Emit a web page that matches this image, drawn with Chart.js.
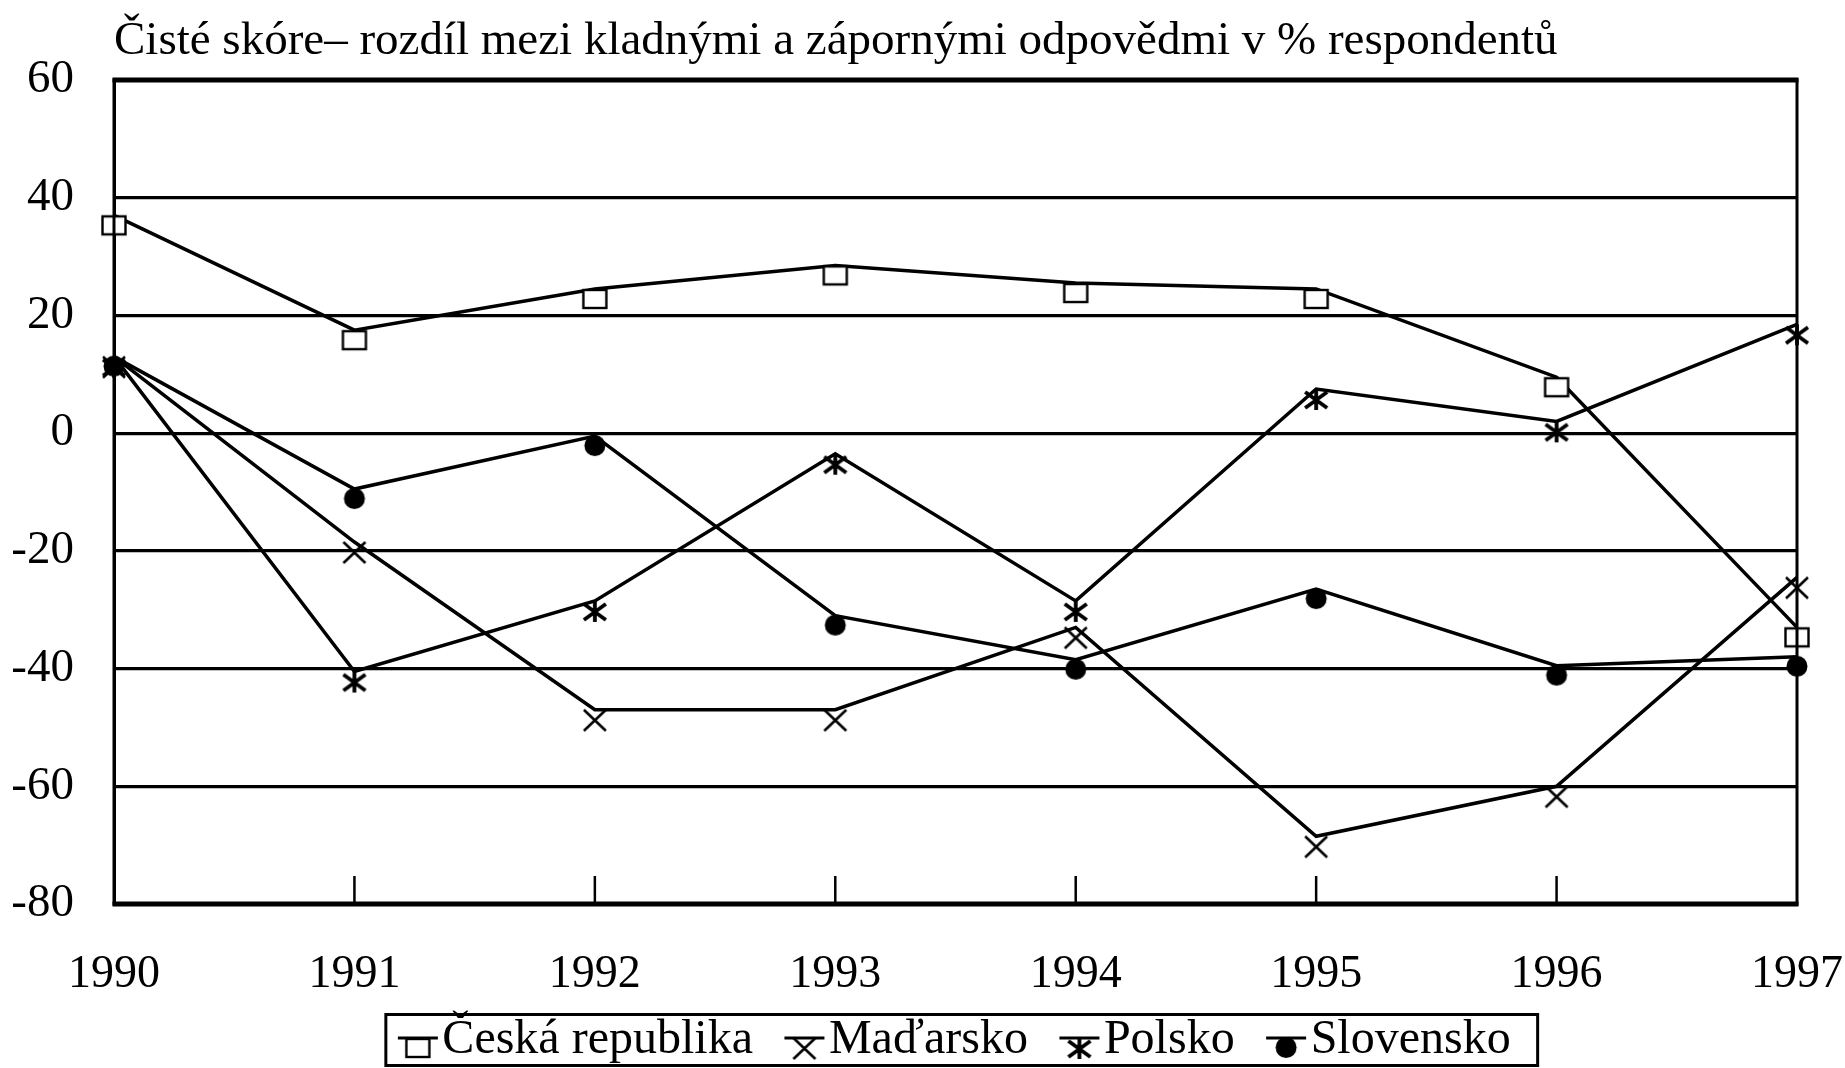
<!DOCTYPE html>
<html>
<head>
<meta charset="utf-8">
<script src="https://cdn.jsdelivr.net/npm/chart.js@4"></script>
<style>
  body { margin: 0; background: #fff; }
  #wrap { width: 1845px; height: 1068px; position: relative; }
</style>
</head>
<body>
<div id="wrap"><canvas id="lineChart"></canvas></div>
<script>
const years = ['1990', '1991', '1992', '1993', '1994', '1995', '1996', '1997'];
// values at the line vertices (the printed markers hang just below them)
const ceskaRepublika = [37, 17.5, 24.5, 28.5, 25.5, 24.5, 9.5, -33];
const madarsko = [13, -18.5, -47, -47, -33, -68.5, -60, -24.5];
const polsko = [13, -40.5, -28.5, -3.5, -28.5, 7.5, 2, 18.5];
const slovensko = [13, -9.5, -0.5, -31, -38.5, -26.5, -39.5, -38];
const yTicks = [60, 40, 20, 0, -20, -40, -60, -80];
const titleText = 'Čisté skóre– rozdíl mezi kladnými a zápornými odpovědmi v % respondentů';

const serif = '"Liberation Serif", "Times New Roman", serif';

// marker glyph hanging below point (cx, cy)
function drawMarker(g, kind, cx, cy) {
    g.strokeStyle = '#000';
    g.fillStyle = '#000';
    if (kind === 'rect') {
        g.lineWidth = 2.4;
        g.fillStyle = '#fff';
        g.fillRect(cx - 11.5, cy + 1, 23, 18);
        g.strokeRect(cx - 11.5, cy + 1, 23, 18);
    } else if (kind === 'x') {
        g.lineWidth = 2.6;
        g.beginPath();
        g.moveTo(cx - 11, cy); g.lineTo(cx + 11, cy + 21);
        g.moveTo(cx + 11, cy); g.lineTo(cx - 11, cy + 21);
        g.stroke();
    } else if (kind === 'star') {
        g.lineWidth = 3.8;
        g.beginPath();
        g.moveTo(cx - 11, cy + 3); g.lineTo(cx + 11, cy + 19);
        g.moveTo(cx + 11, cy + 3); g.lineTo(cx - 11, cy + 19);
        g.moveTo(cx, cy); g.lineTo(cx, cy + 21);
        g.stroke();
    } else {
        g.beginPath(); g.arc(cx, cy + 9.5, 10.5, 0, Math.PI * 2); g.fill();
    }
}

function markerImage(kind) {
    const c = document.createElement('canvas');
    c.width = 30; c.height = 64;
    drawMarker(c.getContext('2d'), kind, 15, 32);
    return c;
}

// legend icon: image is wider than the icon so it sits right next to the text
const iconBox = 46;
const iconW = iconBox + 41;
function legendImage(kind) {
    const c = document.createElement('canvas');
    c.width = iconW; c.height = 64;
    const g = c.getContext('2d');
    g.strokeStyle = '#000'; g.lineWidth = 3.2;
    g.beginPath(); g.moveTo(iconW - 41, 30); g.lineTo(iconW - 1, 30); g.stroke();
    drawMarker(g, kind, iconW - 21, 30);
    return c;
}

function ds(label, data, kind) {
    return {
        label: label,
        data: data,
        borderColor: '#000',
        backgroundColor: '#000',
        borderWidth: 3.5,
        pointStyle: markerImage(kind),
        pointRadius: 10,
        tension: 0,
        clip: false,
        icon: legendImage(kind)
    };
}

const frame = {
    id: 'frame',
    afterLayout(chart) {
        // nudge the legend to where it sits in the printed figure
        const lg = chart.legend;
        lg.left -= 14; lg.right -= 14;
        lg.top += 6; lg.bottom += 6;
    },
    afterDraw(chart) {
        const ctx = chart.ctx;
        const a = chart.chartArea;
        const xs = chart.scales.x;
        ctx.save();
        ctx.strokeStyle = '#000';
        ctx.lineWidth = 3;
        ctx.strokeRect(a.left, a.top, a.right - a.left, a.bottom - a.top);
        ctx.lineWidth = 5;
        ctx.beginPath(); ctx.moveTo(a.left - 1.5, a.top); ctx.lineTo(a.right + 1.5, a.top); ctx.stroke();
        ctx.beginPath(); ctx.moveTo(a.left - 1.5, a.bottom); ctx.lineTo(a.right + 1.5, a.bottom); ctx.stroke();
        // inner tick marks on the category axis
        ctx.lineWidth = 2.5;
        for (let i = 1; i < years.length - 1; i++) {
            const px = xs.getPixelForValue(i);
            ctx.beginPath(); ctx.moveTo(px, a.bottom); ctx.lineTo(px, a.bottom - 28); ctx.stroke();
        }
        // legend frame
        const boxes = chart.legend.legendHitBoxes;
        if (boxes && boxes.length) {
            const first = boxes[0];
            const last = boxes[boxes.length - 1];
            const cy = first.top + 23.5;
            const l = first.left + (iconBox - 20.5) - 12;
            const r = last.left + last.width + 27;
            ctx.lineWidth = 3;
            ctx.strokeRect(l, cy - 25, r - l, 51);
        }
        ctx.restore();
    }
};

const ctx = document.getElementById('lineChart').getContext('2d');
const chart = new Chart(ctx, {
    type: 'line',
    data: {
        labels: years,
        datasets: [
            ds('Česká republika', ceskaRepublika, 'rect'),
            ds('Maďarsko', madarsko, 'x'),
            ds('Polsko', polsko, 'star'),
            ds('Slovensko', slovensko, 'circle')
        ]
    },
    options: {
        responsive: true,
        maintainAspectRatio: false,
        animation: false,
        layout: { padding: { left: 0, right: 48, top: 13, bottom: 0 } },
        plugins: {
            title: {
                display: true,
                text: titleText,
                align: 'start',
                fullSize: false,
                color: '#000',
                font: { family: serif, size: 47, weight: 'normal', lineHeight: 1.2 },
                padding: { top: 0, bottom: 10.6 }
            },
            legend: {
                position: 'bottom',
                fullSize: false,
                labels: {
                    color: '#000',
                    font: { family: serif, size: 48 },
                    usePointStyle: true,
                    pointStyleWidth: iconBox,
                    padding: 6,
                    generateLabels(chart) {
                        return chart.data.datasets.map((d, i) => ({
                            text: d.label,
                            pointStyle: d.icon,
                            fillStyle: '#000',
                            strokeStyle: '#000',
                            lineWidth: 0,
                            fontColor: '#000',
                            datasetIndex: i,
                            hidden: false
                        }));
                    }
                }
            },
            tooltip: { enabled: false }
        },
        scales: {
            x: {
                offset: false,
                grid: { display: false, drawTicks: false },
                border: { display: true, color: '#000', width: 3 },
                ticks: { color: '#000', font: { family: serif, size: 46 }, padding: 43, maxRotation: 0, autoSkip: false },
                afterFit(scale) {
                    scale.height = 100;
                    scale.paddingLeft = 0;
                    scale.paddingRight = 0;
                }
            },
            y: {
                min: -80,
                max: 60,
                afterBuildTicks(scale) { scale.ticks = yTicks.map(v => ({ value: v })); },
                grid: { color: '#000', lineWidth: 3.2, drawTicks: false },
                border: { display: true, color: '#000', width: 3 },
                ticks: { color: '#000', font: { family: serif, size: 47 }, padding: 40 },
                afterFit(scale) { scale.width = 114; }
            }
        }
    },
    plugins: [frame]
});
</script>
</body>
</html>
